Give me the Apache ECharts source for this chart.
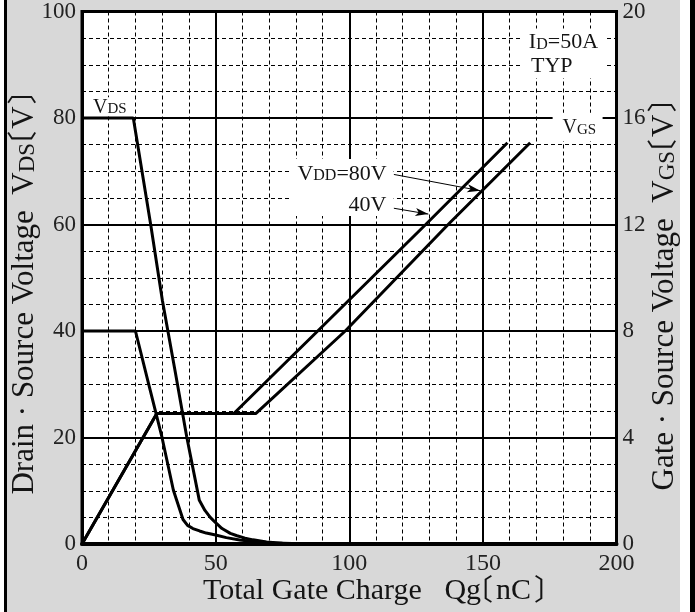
<!DOCTYPE html>
<html>
<head>
<meta charset="utf-8">
<script src="https://cdn.jsdelivr.net/npm/echarts@6/dist/echarts.min.js"></script>
<style>
html,body{margin:0;padding:0;background:#fff;}
#wrap{position:relative;width:695px;height:612px;background:#fff;overflow:hidden;}
#edgeL{position:absolute;left:4px;top:0;width:3px;height:612px;background:#000;}
#bg{position:absolute;left:7px;top:0;width:673px;height:612px;background:#d8d8d8;}
#edgeR{position:absolute;left:690px;top:0;width:5px;height:612px;background:#000;}
#chart{position:absolute;left:0;top:0;width:695px;height:612px;}
</style>
</head>
<body>
<div id="wrap"><div id="edgeL"></div><div id="bg"></div><div id="edgeR"></div><div id="chart"></div></div>
<script>
// ---- data ----
const xTicks = [0, 50, 100, 150, 200];          // Qg [nC]
const vdsTicks = [0, 20, 40, 60, 80, 100];      // VDS [V]
const vgsTicks = [0, 4, 8, 12, 16, 20];         // VGS [V]

// VDS curves (VDD = 80 V and 40 V)
const qgVds80 = [0, 19.2, 25.7, 30.1, 35, 39.2, 43.9, 46, 48, 50, 52.4, 55.5, 58, 61, 64, 69, 75, 83, 92, 200];
const vds80   = [80, 80, 60, 45.7, 32, 20.1, 8.2, 6.3, 5.0, 4.0, 2.9, 2.0, 1.55, 1.1, 0.78, 0.4, 0.15, 0.04, 0, 0];
const qgVds40 = [0, 20, 24.9, 29.9, 34.2, 37.8, 39.5, 41.5, 44, 46.5, 50, 54, 59, 64, 72, 82, 200];
const vds40   = [40, 40, 30.1, 20.1, 10.1, 4.6, 3.5, 2.9, 2.45, 2.05, 1.7, 1.2, 0.75, 0.45, 0.18, 0.03, 0];

// VGS curves
const qgVgs80 = [0, 28, 65, 98.5, 137, 167.7];
const vgs80   = [0, 4.9, 4.9, 8, 12, 15.07];
const qgVgs40 = [0, 28, 56.8, 88.2, 128.6, 159.2];
const vgs40   = [0, 4.9, 4.9, 8, 12, 15.07];

const zip = (xs, ys) => xs.map((x, i) => [x, ys[i]]);

const SERIF = "'Liberation Serif', serif";
const CJK = "'Noto Sans CJK JP', sans-serif";
const INK = '#141414';
const curve = {type: 'line', showSymbol: false, symbol: 'none', smooth: false,
  lineStyle: {color: '#000', width: 3}, z: 5, silent: true};

const option = {
  animation: false,
  grid: {left: 82, right: 78.5, top: 10, bottom: 68, show: true,
    backgroundColor: '#fff', borderColor: '#000', borderWidth: 3},
  xAxis: {
    type: 'value', min: xTicks[0], max: xTicks[xTicks.length - 1], interval: 50,
    axisLine: {show: true, lineStyle: {color: '#000', width: 4}},
    axisTick: {show: false},
    axisLabel: {color: '#222', fontFamily: SERIF, fontSize: 24, margin: 8},
    splitLine: {show: true, lineStyle: {color: '#000', width: 2}},
    minorTick: {show: false, splitNumber: 5},
    minorSplitLine: {show: true, lineStyle: {color: '#000', width: 1, type: [4, 3]}}
  },
  yAxis: [{
    type: 'value', min: vdsTicks[0], max: vdsTicks[vdsTicks.length - 1], interval: 20,
    axisLine: {show: true, lineStyle: {color: '#000', width: 3}},
    axisTick: {show: false},
    axisLabel: {color: '#222', fontFamily: SERIF, fontSize: 23, margin: 6, padding: [6, 0, 0, 0]},
    splitLine: {show: true, lineStyle: {color: '#000', width: 2}},
    minorTick: {show: false, splitNumber: 4},
    minorSplitLine: {show: true, lineStyle: {color: '#000', width: 1, type: [4, 3]}}
  }, {
    type: 'value', position: 'right', min: vgsTicks[0], max: vgsTicks[vgsTicks.length - 1], interval: 4,
    axisLine: {show: true, lineStyle: {color: '#000', width: 3}},
    axisTick: {show: false},
    axisLabel: {color: '#222', fontFamily: SERIF, fontSize: 23, margin: 6, padding: [6, 0, 0, 0]},
    splitLine: {show: false}
  }],
  series: [
    Object.assign({}, curve, {name: 'VDS 80V', yAxisIndex: 0, data: zip(qgVds80, vds80),
      markArea: {silent: true, itemStyle: {color: '#fff', opacity: 1}, label: {show: false},
        data: [
          [{coord: [3.0, 83.9]}, {coord: [18.0, 80.6]}],
          [{coord: [164.6, 96.8]}, {coord: [196.4, 87.5]}],
          [{coord: [176.1, 81.0]}, {coord: [194.8, 75.7]}],
          [{coord: [78.4, 72.3]}, {coord: [116.6, 61.6]}]
        ]}}),
    Object.assign({}, curve, {name: 'VDS 40V', yAxisIndex: 0, data: zip(qgVds40, vds40)}),
    Object.assign({}, curve, {name: 'VGS 80V', yAxisIndex: 1, data: zip(qgVgs80, vgs80),
      markLine: {silent: true, symbol: ['none', 'arrow'], symbolSize: [6, 13], label: {show: false},
        lineStyle: {color: '#000', width: 1, type: 'solid'},
        data: [[{coord: [116.7, 13.88]}, {coord: [149.0, 13.27]}]]}}),
    Object.assign({}, curve, {name: 'VGS 40V', yAxisIndex: 1, data: zip(qgVgs40, vgs40),
      markLine: {silent: true, symbol: ['none', 'arrow'], symbolSize: [6, 13], label: {show: false},
        lineStyle: {color: '#000', width: 1, type: 'solid'},
        data: [[{coord: [116.7, 12.61]}, {coord: [129.6, 12.39]}]]}})
  ]
};

const chart = echarts.init(document.getElementById('chart'));
chart.setOption(option);

// ---- text layout helpers (baseline-aligned tokens) ----
const ctx = document.createElement('canvas').getContext('2d');
function measure(t, size, fam) {
  ctx.font = size + 'px ' + fam;
  ctx.textBaseline = 'alphabetic';
  const m = ctx.measureText(t);
  return {w: m.width, l: m.actualBoundingBoxLeft, r: m.actualBoundingBoxRight,
    mid: (m.fontBoundingBoxAscent - m.fontBoundingBoxDescent) / 2};
}
// tokens: {t, s, f, kind: 'text'|'open'|'close', pre, post}
function layout(tokens) {
  let x = 0;
  const items = [];
  tokens.forEach(k => {
    const fam = k.f || SERIF;
    const m = measure(k.t, k.s, fam);
    let xd;
    if (k.kind === 'open' || k.kind === 'close') {
      xd = x + (k.pre || 0) + m.l;
      x = xd + m.r + (k.post || 0);
    } else {
      xd = x;
      x += m.w;
    }
    items.push({t: k.t, s: k.s, f: fam, x: xd, dy: -m.mid});
  });
  return {items, width: x};
}
function group(tokens, x0, y0, rotation, centred) {
  const L = layout(tokens);
  const off = centred ? -L.width / 2 : 0;
  const children = L.items.map(it => ({type: 'text', x: it.x + off, y: it.dy, z: 100, silent: true,
    style: {text: it.t, fontSize: it.s, fontFamily: it.f, fill: INK, align: 'left', verticalAlign: 'middle'}}));
  return {type: 'group', x: x0, y: y0, rotation: rotation || 0, z: 100, silent: true, children};
}

// annotations placed in data coordinates (qg, VDS)
const annotations = [
  {qg: 4.1, v: 80.7, tokens: [{t: 'V', s: 20}, {t: 'DS', s: 15}]},
  {qg: 167.2, v: 92.8, tokens: [{t: 'I', s: 22}, {t: 'D', s: 16}, {t: '=50A', s: 22}]},
  {qg: 168.0, v: 88.3, tokens: [{t: 'TYP', s: 22}]},
  {qg: 179.8, v: 76.8, tokens: [{t: 'V', s: 20}, {t: 'GS', s: 15}]},
  {qg: 80.6, v: 68.1, tokens: [{t: 'V', s: 22}, {t: 'DD', s: 16}, {t: '=80V', s: 22}]},
  {qg: 99.7, v: 62.3, tokens: [{t: '40V', s: 22}]}
];
const graphics = annotations.map(a => {
  const p = chart.convertToPixel({xAxisIndex: 0, yAxisIndex: 0}, [a.qg, a.v]);
  return group(a.tokens, p[0], p[1], 0, false);
});

// axis titles (baseline-centred groups)
const T = 31, Ts = 23, Tb = 30;
graphics.push(group([
  {t: 'Total Gate Charge   Qg', s: 30},
  {t: '〔', s: 29, f: CJK, kind: 'open', pre: 3, post: 4},
  {t: 'nC', s: 30},
  {t: '〕', s: 29, f: CJK, kind: 'close', pre: 4, post: 0}
], 373, 602, 0, true));
graphics.push(group([
  {t: 'Drain · Source Voltage  V', s: T},
  {t: 'DS', s: Ts},
  {t: '〔', s: Tb, f: CJK, kind: 'open', pre: 3, post: 3},
  {t: 'V', s: T},
  {t: '〕', s: Tb, f: CJK, kind: 'close', pre: 3, post: 0}
], 35, 295, Math.PI / 2, true));
graphics.push(group([
  {t: 'Gate · Source Voltage  V', s: T},
  {t: 'GS', s: Ts},
  {t: '〔', s: Tb, f: CJK, kind: 'open', pre: 3, post: 3},
  {t: 'V', s: T},
  {t: '〕', s: Tb, f: CJK, kind: 'close', pre: 3, post: 0}
], 675, 297, Math.PI / 2, true));

chart.setOption({graphic: graphics});
</script>
</body>
</html>
